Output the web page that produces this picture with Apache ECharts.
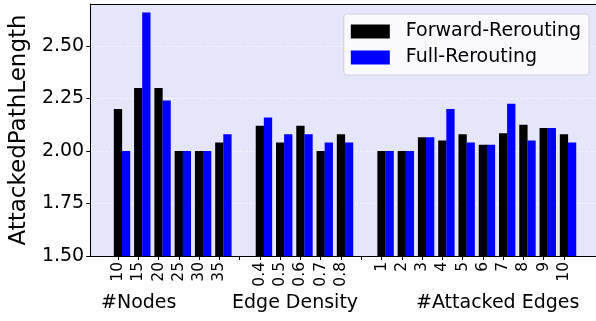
<!DOCTYPE html>
<html>
<head>
<meta charset="utf-8">
<script src="https://cdn.jsdelivr.net/npm/echarts@6/dist/echarts.min.js"></script>
<style>
  html, body { margin: 0; padding: 0; background: #ffffff; }
  #chart { width: 596px; height: 321px; }
</style>
</head>
<body>
<div id="chart"></div>
<script>
// Tick labels along x (empty slots separate the three parameter groups)
const tickLabels = ['10', '15', '20', '25', '30', '35', '',
                    '0.4', '0.5', '0.6', '0.7', '0.8', '',
                    '1', '2', '3', '4', '5', '6', '7', '8', '9', '10'];
const groupNames = ['#Nodes', 'Edge Density', '#Attacked Edges'];
const seriesNames = ['Forward-Rerouting', 'Full-Rerouting'];

// Mean attacked path length per setting (null in the separator slots)
const forwardRerouting = [2.20, 2.30, 2.30, 2.00, 2.00, 2.04, null,
                          2.12, 2.04, 2.12, 2.00, 2.08, null,
                          2.00, 2.00, 2.065, 2.05, 2.08, 2.03, 2.085, 2.125, 2.11, 2.08];
const fullRerouting    = [2.00, 2.66, 2.24, 2.00, 2.00, 2.08, null,
                          2.16, 2.08, 2.08, 2.04, 2.04, null,
                          2.00, 2.00, 2.065, 2.20, 2.04, 2.03, 2.225, 2.05, 2.11, 2.04];

const barOffset = 0.4;   // second bar sits one bar-width to the right
const font = 'DejaVu Sans';

function toPoints(values, shift) {
  const pts = [];
  values.forEach((v, i) => { if (v !== null) pts.push([i + shift, v]); });
  return pts;
}
const tickPositions = tickLabels.map((_, i) => i);
const xMin = -1.37, xMax = 23.58;

const chart = echarts.init(document.getElementById('chart'), null, { renderer: 'canvas' });
chart.setOption({
  animation: false,
  textStyle: { fontFamily: font },
  grid: {
    left: 82, top: 4, bottom: 65, right: 0,
    show: true, backgroundColor: '#E6E6FA', borderWidth: 0
  },
  legend: {
    orient: 'vertical',
    right: 7, top: 14,
    padding: [8, 8, 8, 7],
    itemGap: 7,
    itemWidth: 39, itemHeight: 14,
    icon: 'rect',
    backgroundColor: 'rgba(255,255,255,0.8)',
    borderColor: '#d0d0d8', borderWidth: 1, borderRadius: 3,
    textStyle: { fontFamily: font, fontSize: 19, color: '#000', padding: [0, 0, 0, 11] },
    data: seriesNames
  },
  xAxis: [
    {
      type: 'value',
      min: xMin, max: xMax,
      splitLine: { show: false },
      axisLine: { show: true, onZero: false, lineStyle: { color: '#000', width: 1 } },
      axisTick: { show: true, customValues: tickPositions, length: 4, lineStyle: { color: '#000' } },
      axisLabel: {
        customValues: tickPositions,
        rotate: 90, margin: 6,
        fontFamily: font, fontSize: 15.5, color: '#000',
        formatter: v => tickLabels[Math.round(v)]
      }
    },
    {
      // top frame line only
      type: 'value', position: 'top',
      min: xMin, max: xMax,
      splitLine: { show: false },
      axisLine: { show: true, onZero: false, lineStyle: { color: '#000', width: 1 } },
      axisTick: { show: false },
      axisLabel: { show: false }
    }
  ],
  yAxis: {
    type: 'value',
    min: 1.5, max: 2.7, interval: 0.25,
    name: 'AttackedPathLength',
    nameLocation: 'middle', nameGap: 56,
    nameTextStyle: { fontFamily: font, fontSize: 23, color: '#000' },
    axisLine: { show: true, onZero: false, lineStyle: { color: '#000', width: 1 } },
    axisTick: { show: true, length: 4, lineStyle: { color: '#000' } },
    axisLabel: {
      margin: 6, fontFamily: font, fontSize: 19, color: '#000',
      showMaxLabel: false,
      formatter: v => v.toFixed(2)
    },
    splitLine: { show: true, lineStyle: { color: '#F4F4FD', type: [3, 2], width: 1 } }
  },
  series: [
    {
      name: seriesNames[0], type: 'bar',
      barWidth: 8.3, barGap: '-100%',
      itemStyle: { color: '#000000' },
      data: toPoints(forwardRerouting, 0)
    },
    {
      name: seriesNames[1], type: 'bar',
      barWidth: 8.3, barGap: '-100%',
      itemStyle: { color: '#0000FF' },
      data: toPoints(fullRerouting, barOffset)
    }
  ],
  graphic: [
    { type: 'text', left: 101, top: 294, style: { text: groupNames[0], font: '19px "DejaVu Sans"', fill: '#000' } },
    { type: 'text', left: 232, top: 294, style: { text: groupNames[1], font: '19px "DejaVu Sans"', fill: '#000' } },
    { type: 'text', left: 416, top: 294, style: { text: groupNames[2], font: '19px "DejaVu Sans"', fill: '#000' } }
  ]
});
</script>
</body>
</html>
